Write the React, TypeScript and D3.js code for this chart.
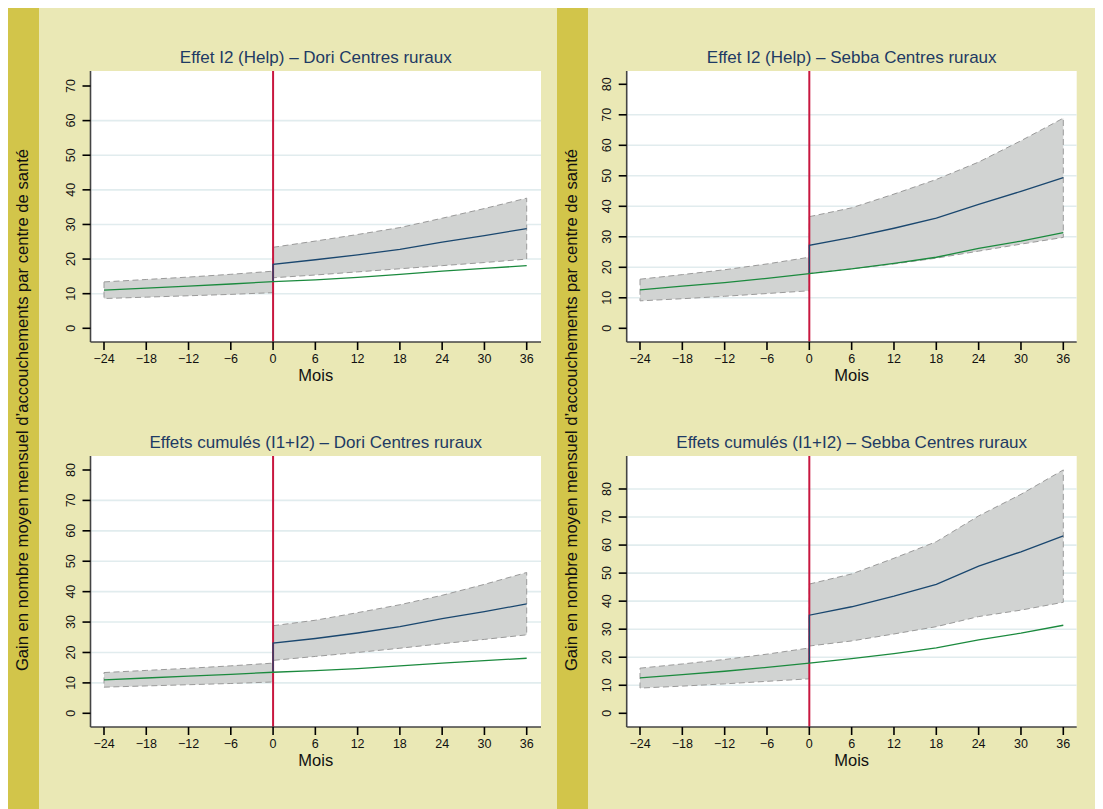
import React from 'react'
import * as d3 from 'd3'

// months relative to the start of the intervention
const preMonths = [-24, -18, -12, -6, 0]
const postMonths = [0, 6, 12, 18, 24, 30, 36]
const allMonths = [-24, -18, -12, -6, 0, 6, 12, 18, 24, 30, 36]
const xTicks = [-24, -18, -12, -6, 0, 6, 12, 18, 24, 30, 36]

// Dori : trend without intervention + pre-period band
const doriTrend = [11.0, 11.6, 12.2, 12.8, 13.5, 14.0, 14.7, 15.6, 16.5, 17.3, 18.1]
const doriPreHigh = [13.4, 14.1, 14.8, 15.6, 16.5]
const doriPreLow = [8.6, 9.0, 9.4, 9.8, 10.3]
// Dori : effect I2 (Help)
const doriHelp = [18.5, 19.8, 21.2, 22.8, 24.9, 26.8, 28.8]
const doriHelpHigh = [23.4, 25.2, 27.1, 29.1, 31.8, 34.6, 37.6]
const doriHelpLow = [14.6, 15.4, 16.3, 17.2, 18.1, 19.0, 20.0]
// Dori : cumulative effects I1+I2
const doriCum = [23.1, 24.6, 26.4, 28.5, 31.1, 33.4, 36.0]
const doriCumHigh = [28.8, 30.6, 33.1, 35.7, 38.8, 42.4, 46.3]
const doriCumLow = [17.4, 18.7, 20.0, 21.4, 22.9, 24.3, 25.8]

// Sebba
const sebbaTrend = [12.6, 13.8, 15.0, 16.4, 17.9, 19.5, 21.3, 23.3, 26.2, 28.6, 31.4]
const sebbaPreHigh = [16.1, 17.6, 19.2, 21.1, 23.3]
const sebbaPreLow = [9.0, 9.7, 10.5, 11.4, 12.3]
const sebbaHelp = [27.2, 29.8, 32.8, 36.1, 40.6, 44.9, 49.4]
const sebbaHelpHigh = [36.6, 39.5, 44.0, 48.8, 54.5, 61.5, 68.9]
const sebbaHelpLow = [18.0, 19.5, 21.1, 23.0, 25.3, 27.6, 29.8]
const sebbaCum = [35.0, 38.0, 41.8, 46.0, 52.5, 57.6, 63.3]
const sebbaCumHigh = [46.1, 49.7, 55.3, 61.2, 70.4, 78.1, 86.8]
const sebbaCumLow = [24.0, 25.8, 28.3, 30.9, 34.5, 36.8, 39.6]

const yTicks70 = [0, 10, 20, 30, 40, 50, 60, 70]
const yTicks80 = [0, 10, 20, 30, 40, 50, 60, 70, 80]

const titles = [
  'Effet I2 (Help) – Dori Centres ruraux',
  'Effet I2 (Help) – Sebba Centres ruraux',
  'Effets cumulés (I1+I2) – Dori Centres ruraux',
  'Effets cumulés (I1+I2) – Sebba Centres ruraux',
]
const xTitle = 'Mois'
const yTitle = 'Gain en nombre moyen mensuel d’accouchements par centre de santé'

const FONT = '"Liberation Sans", Arial, Helvetica, sans-serif'
const LIGHT = '#eae8b5'
const DARK = '#d2c54a'

const panels = [
  {
    title: titles[0], trend: doriTrend, preHigh: doriPreHigh, preLow: doriPreLow,
    eff: doriHelp, high: doriHelpHigh, low: doriHelpLow,
    yTicks: yTicks70, grid: [10, 20, 30, 40, 50, 60],
    x0: 90.5, x1: 541, xr: [104, 526.7], top: 71, bottom: 342, yr: [328.3, 86], yTop: 70,
  },
  {
    title: titles[1], trend: sebbaTrend, preHigh: sebbaPreHigh, preLow: sebbaPreLow,
    eff: sebbaHelp, high: sebbaHelpHigh, low: sebbaHelpLow,
    yTicks: yTicks80, grid: [10, 20, 30, 40, 50, 60, 70],
    x0: 626.7, x1: 1076.7, xr: [640, 1063.3], top: 71, bottom: 342, yr: [328.3, 84.3], yTop: 80,
  },
  {
    title: titles[2], trend: doriTrend, preHigh: doriPreHigh, preLow: doriPreLow,
    eff: doriCum, high: doriCumHigh, low: doriCumLow,
    yTicks: yTicks80, grid: [10, 20, 30, 40, 50, 60, 70],
    x0: 90.5, x1: 541, xr: [104, 526.7], top: 456, bottom: 727, yr: [713.3, 470], yTop: 80,
  },
  {
    title: titles[3], trend: sebbaTrend, preHigh: sebbaPreHigh, preLow: sebbaPreLow,
    eff: sebbaCum, high: sebbaCumHigh, low: sebbaCumLow,
    yTicks: yTicks80, grid: [10, 20, 30, 40, 50, 60, 70, 80],
    x0: 626.7, x1: 1076.7, xr: [640, 1063.3], top: 456, bottom: 727, yr: [713.3, 489], yTop: 80,
  },
]

function Panel({ p }: { p: any }) {
  const x = d3.scaleLinear().domain([-24, 36]).range(p.xr)
  const y = d3.scaleLinear().domain([0, p.yTop]).range(p.yr)

  const line = d3
    .line<[number, number]>()
    .x((d) => x(d[0]))
    .y((d) => y(d[1]))

  // closed outline of a band: upper edge forward, lower edge backward
  const band = (ms: number[], hi: number[], lo: number[]) => {
    const pts: [number, number][] = ms.map((m, i) => [m, hi[i]])
    const back: [number, number][] = ms.map((m, i) => [m, lo[i]] as [number, number]).reverse()
    return line(pts.concat(back)) + 'Z'
  }

  const trendPts: [number, number][] = allMonths.map((m, i) => [m, p.trend[i]])
  const effPts: [number, number][] = [[0, p.trend[4]]].concat(
    postMonths.map((m, i) => [m, p.eff[i]])
  ) as [number, number][]

  const midX = (p.x0 + p.x1) / 2

  return (
    <g>
      <rect x={p.x0} y={p.top} width={p.x1 - p.x0} height={p.bottom - p.top} fill="#fff" />
      {p.grid.map((t: number) => (
        <line key={'g' + t} x1={p.x0 + 1} x2={p.x1} y1={y(t)} y2={y(t)} stroke="#e1ecee" strokeWidth={1.6} />
      ))}

      {[band(preMonths, p.preHigh, p.preLow), band(postMonths, p.high, p.low)].map((d, i) => (
        <path key={'b' + i} d={d} fill="#d1d3d2" stroke="#9a9a9a" strokeWidth={1} strokeDasharray="6 3.5" />
      ))}

      <line x1={x(0)} x2={x(0)} y1={p.top} y2={p.bottom} stroke="#c8173f" strokeWidth={2} />

      <path d={line(effPts) || ''} fill="none" stroke="#1a476f" strokeWidth={1.3} />
      <path d={line(trendPts) || ''} fill="none" stroke="#1b8a3e" strokeWidth={1.3} />

      {/* axes */}
      <line x1={p.x0} x2={p.x0} y1={p.top} y2={p.bottom} stroke="#444" strokeWidth={1.6} />
      <line x1={p.x0} x2={p.x1} y1={p.bottom} y2={p.bottom} stroke="#444" strokeWidth={1.6} />

      {p.yTicks.map((t: number) => (
        <g key={'y' + t}>
          <line x1={p.x0 - 8} x2={p.x0} y1={y(t)} y2={y(t)} stroke="#000" strokeWidth={1.6} />
          <text
            transform={`translate(${p.x0 - 16},${y(t)}) rotate(-90)`}
            textAnchor="middle"
            fontSize={12.5}
            fontFamily={FONT}
            fill="#111"
          >
            {t}
          </text>
        </g>
      ))}
      {xTicks.map((t) => (
        <g key={'x' + t}>
          <line x1={x(t)} x2={x(t)} y1={p.bottom} y2={p.bottom + 8} stroke="#000" strokeWidth={1.6} />
          <text x={x(t)} y={p.bottom + 20.5} textAnchor="middle" fontSize={12.5} fontFamily={FONT} fill="#111">
            {t < 0 ? '\u2212' + Math.abs(t) : t}
          </text>
        </g>
      ))}

      <text x={midX} y={p.bottom + 39} textAnchor="middle" fontSize={16.5} fontFamily={FONT} fill="#111">
        {xTitle}
      </text>
      <text x={midX} y={p.top - 8} textAnchor="middle" fontSize={17} fontFamily={FONT} fill="#1e3a64">
        {p.title}
      </text>
    </g>
  )
}

export default function App() {
  return (
    <svg width={1095} height={801} style={{ display: 'block' }}>
      <g transform="translate(-8,-8)">
        <rect x={8} y={8} width={1095} height={801} fill={LIGHT} />
        <rect x={8} y={8} width={31} height={801} fill={DARK} />
        <rect x={557} y={8} width={31} height={801} fill={DARK} />
        {[22, 571].map((cx) => (
          <text
            key={cx}
            transform={`translate(${cx},410) rotate(-90)`}
            textAnchor="middle"
            dominantBaseline="central"
            fontSize={16.6}
            fontFamily={FONT}
            fill="#111"
          >
            {yTitle}
          </text>
        ))}
        {panels.map((p, i) => (
          <Panel key={i} p={p} />
        ))}
      </g>
    </svg>
  )
}
